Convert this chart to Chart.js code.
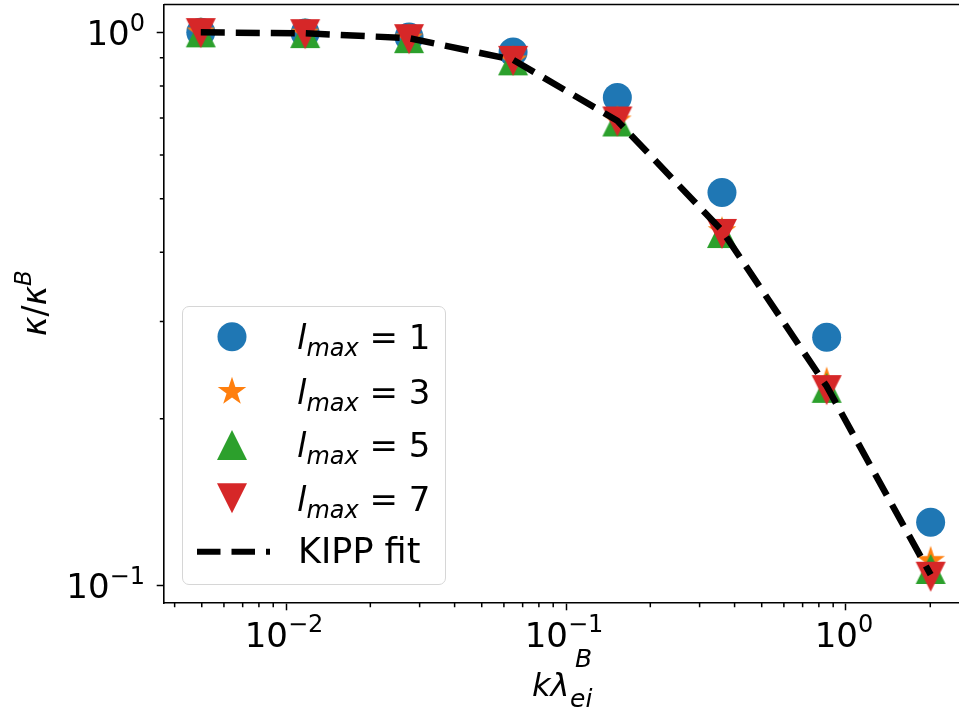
<!DOCTYPE html>
<html>
<head>
<meta charset="utf-8">
<script src="https://cdn.jsdelivr.net/npm/chart.js@4.4.0/dist/chart.umd.min.js"></script>
<style>
  html, body { margin: 0; padding: 0; background: #fff; }
  #wrap { position: relative; width: 959px; height: 711px; overflow: hidden; font-family: "DejaVu Sans", sans-serif; color: #000; }
  #c { display: block; }
  .t { position: absolute; white-space: nowrap; line-height: normal; }
  .sub { position: relative; font-style: italic; }
  #legend { position: absolute; left: 182px; top: 306px; width: 262px; height: 277px;
            border: 1.5px solid #d6d6d6; border-radius: 7px; background: rgba(255,255,255,0.8); }
  #legendSvg { position: absolute; left: 0; top: 0; }
</style>
</head>
<body>
<div id="wrap">
  <canvas id="c" width="959" height="711"></canvas>

  <div id="legend"></div>
  <svg id="legendSvg" width="959" height="711"></svg>
  <div id="legendText"></div>

  <!-- x axis title: k lambda_ei^B -->
  <div class="t" id="xt1" style="left:532px; top:665.5px; font-size:32px; font-style:italic;">kλ</div>
  <div class="t" id="xt2" style="left:575px; top:644px; font-size:25px; font-style:italic;">B</div>
  <div class="t" id="xt3" style="left:570px; top:683.5px; font-size:25px; font-style:italic;">ei</div>

  <!-- y axis title: kappa / kappa^B -->
  <div class="t" id="yt" style="left:34px; top:303px; font-size:33px; transform: translate(-50%,-50%) rotate(-90deg);"><i>κ</i>/<i>κ</i><i class="sub" style="font-size:23px; top:-15px;">B</i></div>
</div>

<script>
// ---------------- data ----------------
const kLambda = [0.00496, 0.0117, 0.0275, 0.0647, 0.1525, 0.3606, 0.853, 2.006];
const lmax1   = [1.000, 0.997, 0.981, 0.921, 0.762, 0.513, 0.281, 0.130];
const lmax3   = [1.000, 0.995, 0.975, 0.890, 0.693, 0.437, 0.2335, 0.1107];
const lmax5   = [1.000, 0.997, 0.976, 0.890, 0.690, 0.4335, 0.2275, 0.107];
const lmax7   = [0.997, 0.9925, 0.972, 0.888, 0.690, 0.432, 0.2254, 0.1036];
const kippFit = [1.000, 0.996, 0.976, 0.892, 0.692, 0.438, 0.229, 0.1045];

const seriesLabels = ['1', '3', '5', '7'];
const fitLabel = 'KIPP fit';

const xTickValues = [0.01, 0.1, 1];
const xTickLabels = ['10^−2', '10^−1', '10^0'];
const yTickValues = [0.1, 1];
const yTickLabels = ['10^−1', '10^0'];

const xMin = 0.003665, xMax = 2.533;
const yMin = 0.09286, yMax = 1.123;

// ---------------- styling ----------------
const C_BLUE = '#1f77b4', C_ORANGE = '#ff7f0e', C_GREEN = '#2ca02c', C_RED = '#d62728';
const MS = 30;
const FONT = '"DejaVu Sans", sans-serif';

function makeMarker(kind, color, size) {
  const S = Math.ceil(size) + 4;
  const c = document.createElement('canvas');
  c.width = S; c.height = S;
  const g = c.getContext('2d');
  const cx = S / 2, cy = S / 2, h = size / 2;
  g.fillStyle = color;
  g.beginPath();
  if (kind === 'up') {
    g.moveTo(cx, cy - h); g.lineTo(cx - h, cy + h); g.lineTo(cx + h, cy + h);
  } else if (kind === 'down') {
    g.moveTo(cx, cy + h); g.lineTo(cx - h, cy - h); g.lineTo(cx + h, cy - h);
  } else if (kind === 'star') {
    for (let i = 0; i < 10; i++) {
      const r = (i % 2) ? h * 0.381966 : h;
      const a = -Math.PI / 2 + i * Math.PI / 5;
      const px = cx + r * Math.cos(a), py = cy + r * Math.sin(a);
      if (i === 0) g.moveTo(px, py); else g.lineTo(px, py);
    }
  }
  g.closePath();
  g.fill();
  return c;
}
const starImg = makeMarker('star', C_ORANGE, MS);
const upImg = makeMarker('up', C_GREEN, MS);
const downImg = makeMarker('down', C_RED, MS);

function pts(ys) { return kLambda.map((x, i) => ({ x: x, y: ys[i] })); }

// draws "10" with a raised exponent; align: 'center' or 'right'
function drawPow(ctx, label, x, baseline, align) {
  const parts = label.split('^');
  ctx.font = '34px ' + FONT;
  const w1 = ctx.measureText(parts[0]).width;
  ctx.font = '24px ' + FONT;
  const w2 = ctx.measureText(parts[1]).width;
  const total = w1 + w2;
  const start = align === 'right' ? x - total : x - total / 2;
  ctx.font = '34px ' + FONT;
  ctx.fillText(parts[0], start, baseline);
  ctx.font = '24px ' + FONT;
  ctx.fillText(parts[1], start + w1, baseline - 14.6);
}

// minor ticks, tick labels, top spine
const framePlugin = {
  id: 'frame',
  afterDraw(chart) {
    const ctx = chart.ctx, a = chart.chartArea;
    const xs = chart.scales.x, ys = chart.scales.y;
    ctx.save();
    ctx.strokeStyle = '#000';
    ctx.lineWidth = 1.5;
    ctx.beginPath();
    for (let d = -4; d <= 1; d++) {
      for (let m = 2; m <= 9; m++) {
        const v = m * Math.pow(10, d);
        if (v > xMin && v < xMax) {
          const px = xs.getPixelForValue(v);
          ctx.moveTo(px, a.bottom); ctx.lineTo(px, a.bottom + 4.2);
        }
        if (v > yMin && v < yMax) {
          const py = ys.getPixelForValue(v);
          ctx.moveTo(a.left, py); ctx.lineTo(a.left - 4.2, py);
        }
      }
    }
    ctx.stroke();
    ctx.lineWidth = 1.6;
    ctx.beginPath();
    ctx.moveTo(a.left, a.top); ctx.lineTo(a.right + 1, a.top);
    ctx.stroke();

    ctx.fillStyle = '#000';
    ctx.textBaseline = 'alphabetic';
    ctx.textAlign = 'left';
    xTickValues.forEach((v, i) => {
      drawPow(ctx, xTickLabels[i], xs.getPixelForValue(v) - 2, a.bottom + 44, 'center');
    });
    yTickValues.forEach((v, i) => {
      drawPow(ctx, yTickLabels[i], a.left - 19, ys.getPixelForValue(v) + 13, 'right');
    });
    ctx.restore();
  }
};

Chart.defaults.font.family = FONT;
Chart.defaults.color = '#000';

const chart = new Chart(document.getElementById('c'), {
  type: 'scatter',
  data: {
    datasets: [
      { label: fitLabel, data: pts(kippFit), showLine: true, order: 0,
        borderColor: '#000', borderWidth: 6.5, borderDash: [24, 11], borderCapStyle: 'butt',
        pointRadius: 0, fill: false, tension: 0 },
      { label: 'lmax = ' + seriesLabels[3], data: pts(lmax7), order: 1,
        pointStyle: downImg, pointRadius: 15, backgroundColor: C_RED, borderColor: C_RED },
      { label: 'lmax = ' + seriesLabels[2], data: pts(lmax5), order: 2,
        pointStyle: upImg, pointRadius: 15, backgroundColor: C_GREEN, borderColor: C_GREEN },
      { label: 'lmax = ' + seriesLabels[1], data: pts(lmax3), order: 3,
        pointStyle: starImg, pointRadius: 15, backgroundColor: C_ORANGE, borderColor: C_ORANGE },
      { label: 'lmax = ' + seriesLabels[0], data: pts(lmax1), order: 4,
        pointStyle: 'circle', pointRadius: 14.5, pointBorderWidth: 0,
        backgroundColor: C_BLUE, borderColor: C_BLUE }
    ]
  },
  options: {
    responsive: false,
    animation: false,
    events: [],
    layout: { autoPadding: false, padding: { top: 4.5, left: 0, right: 0, bottom: 0 } },
    plugins: { legend: { display: false }, tooltip: { enabled: false } },
    scales: {
      x: {
        type: 'logarithmic', min: xMin, max: xMax, position: 'bottom',
        border: { display: true, color: '#000', width: 1.6 },
        grid: { display: true, drawOnChartArea: false, drawTicks: true, tickLength: 7.3, tickWidth: 1.5, tickColor: '#000' },
        ticks: { display: false, autoSkip: false, maxRotation: 0,
                 callback: (v) => { const i = xTickValues.indexOf(v); return i >= 0 ? xTickLabels[i] : ''; } },
        afterBuildTicks: (axis) => { axis.ticks = xTickValues.map(v => ({ value: v })); },
        afterFit: (s) => { s.height = 108; s.paddingLeft = 0; s.paddingRight = 0; }
      },
      y: {
        type: 'logarithmic', min: yMin, max: yMax, position: 'left',
        border: { display: true, color: '#000', width: 1.6 },
        grid: { display: true, drawOnChartArea: false, drawTicks: true, tickLength: 7.3, tickWidth: 1.5, tickColor: '#000' },
        ticks: { display: false, autoSkip: false,
                 callback: (v) => { const i = yTickValues.indexOf(v); return i >= 0 ? yTickLabels[i] : ''; } },
        afterBuildTicks: (axis) => { axis.ticks = yTickValues.map(v => ({ value: v })); },
        afterFit: (s) => { s.width = 164; s.paddingTop = 0; s.paddingBottom = 0; }
      }
    }
  },
  plugins: [framePlugin]
});

// ---------------- legend (HTML/SVG overlay) ----------------
(function buildLegend() {
  const svg = document.getElementById('legendSvg');
  const ns = 'http://www.w3.org/2000/svg';
  const mx = 232;
  const rowY = [336.7, 391.7, 445, 498.3, 551.7];
  const h = MS / 2;
  function poly(points, color) {
    const p = document.createElementNS(ns, 'polygon');
    p.setAttribute('points', points.map(q => q[0].toFixed(2) + ',' + q[1].toFixed(2)).join(' '));
    p.setAttribute('fill', color);
    svg.appendChild(p);
  }
  const circ = document.createElementNS(ns, 'circle');
  circ.setAttribute('cx', mx); circ.setAttribute('cy', rowY[0]); circ.setAttribute('r', 14.5);
  circ.setAttribute('fill', C_BLUE); svg.appendChild(circ);
  const star = [];
  for (let i = 0; i < 10; i++) {
    const r = (i % 2) ? h * 0.381966 : h;
    const a = -Math.PI / 2 + i * Math.PI / 5;
    star.push([mx + r * Math.cos(a), rowY[1] + r * Math.sin(a)]);
  }
  poly(star, C_ORANGE);
  poly([[mx, rowY[2] - h], [mx - h, rowY[2] + h], [mx + h, rowY[2] + h]], C_GREEN);
  poly([[mx, rowY[3] + h], [mx - h, rowY[3] - h], [mx + h, rowY[3] - h]], C_RED);
  const ln = document.createElementNS(ns, 'line');
  ln.setAttribute('x1', 197); ln.setAttribute('x2', 270);
  ln.setAttribute('y1', rowY[4]); ln.setAttribute('y2', rowY[4]);
  ln.setAttribute('stroke', '#000'); ln.setAttribute('stroke-width', 6);
  ln.setAttribute('stroke-dasharray', '23.5 11');
  svg.appendChild(ln);

  const host = document.getElementById('legendText');
  rowY.forEach((cy, i) => {
    const fs = i < 4 ? 34 : 35;
    const d = document.createElement('div');
    d.className = 't';
    d.style.fontSize = fs + 'px';
    d.style.left = (i < 4 ? 297 : 298) + 'px';
    d.style.top = (cy + 12 - 0.928 * fs) + 'px';
    if (i < 4) {
      d.innerHTML = '<i>l</i><span class="sub" style="font-size:24px; top:7px;">max</span> = ' + seriesLabels[i];
    } else {
      d.textContent = fitLabel;
    }
    host.appendChild(d);
  });
})();
</script>
</body>
</html>
